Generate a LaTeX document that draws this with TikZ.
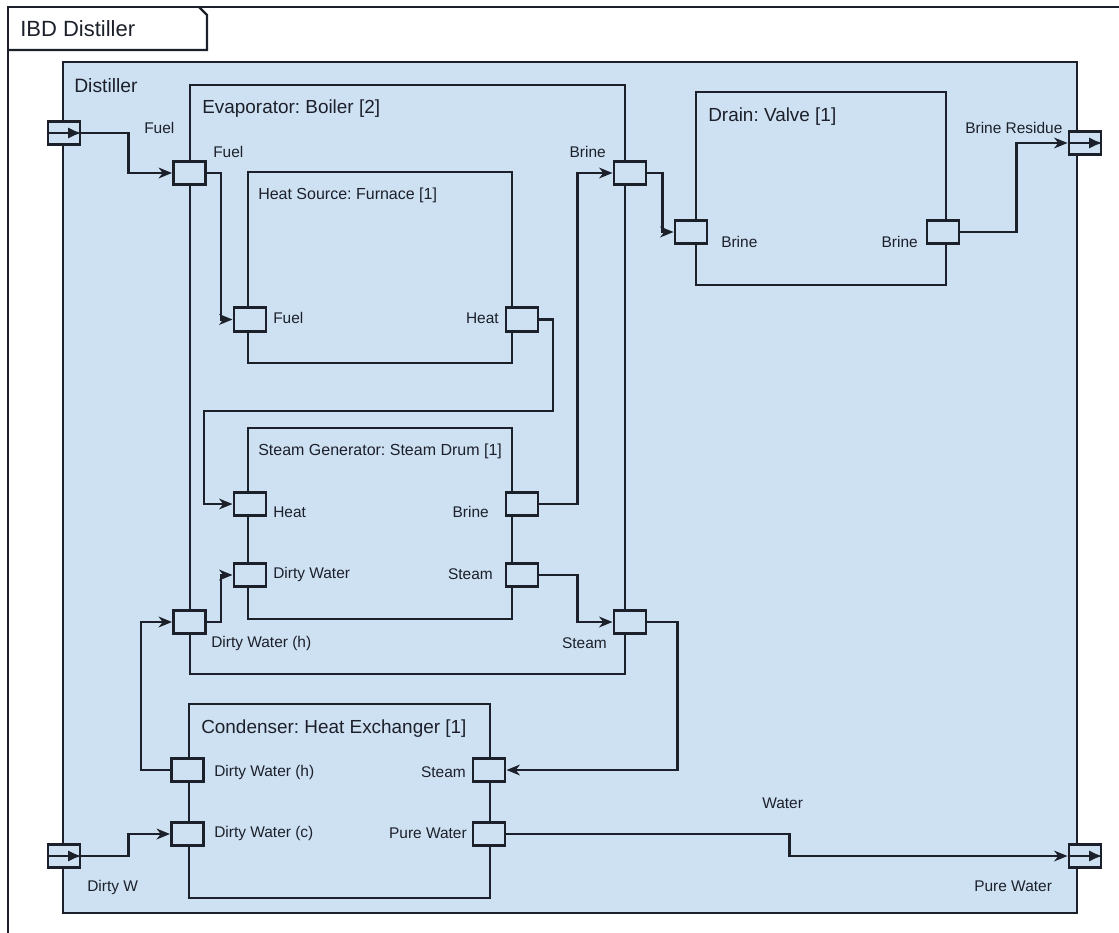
\documentclass[tikz,border=0pt]{standalone}
\usepackage{fontspec}
\setmainfont{Liberation Sans}
\usetikzlibrary{arrows.meta,positioning,fit}
\definecolor{ibdblue}{RGB}{206,225,243}
\definecolor{ink}{RGB}{28,32,42}
\frenchspacing

\begin{document}
\begin{tikzpicture}[
  x=0.75pt, y=-0.75pt,
  frame/.style={draw=ink, line width=1.8pt},
  block/.style={rectangle, draw=ink, fill=ibdblue, line width=2.2pt, inner sep=0pt},
  port/.style={rectangle, draw=ink, fill=ibdblue, line width=2.2pt, minimum width=24pt, minimum height=17.5pt, inner sep=0pt},
  arr/.style={-{Stealth[length=10pt,width=8pt,inset=3pt]}, draw=ink, line width=2.1pt},
  portarr/.style={-{Latex[length=10pt,width=8.5pt]}, draw=ink, line width=2.1pt},
  lbl/.style={text=ink, inner sep=0pt, font=\fontsize{11.6}{13}\selectfont},
  sublbl/.style={text=ink, inner sep=0pt, font=\fontsize{12}{14}\selectfont},
  titlelbl/.style={text=ink, inner sep=0pt, font=\fontsize{14.2}{16}\selectfont}
]
\useasboundingbox (0,0) rectangle (1119,932);
\fill[white] (0,0) rectangle (1119,932);

% Frame with tab
\draw[frame] (8,960) -- (8,7) -- (1140,7);
\draw[frame] (8,50) -- (207,50) -- (207,15) -- (199,7);
\node[text=ink, inner sep=0pt, font=\fontsize{16.5}{18}\selectfont, anchor=west] (ibd) at (20,29) {IBD Distiller};

% Distiller
\node[block, fit={(63,62) (1077,913)}] (distiller) {};
\node[text=ink, inner sep=0pt, font=\fontsize{14.5}{16}\selectfont, anchor=west] (distlbl) at (74,86) {Distiller};

% Parts
\node[block, fit={(190,85) (625,674)}] (evap) {};
\node[block, fit={(248,172) (512,363)}] (furnace) {};
\node[block, fit={(248,428) (512,619)}] (steamgen) {};
\node[block, fit={(696,92) (946,285)}] (drain) {};
\node[block, fit={(189,704) (490,898)}] (condenser) {};

\node[titlelbl, anchor=west] (evaplbl) at (202,109) {Evaporator: Boiler [2]};
\node[sublbl, anchor=west] (furnlbl) at (258,195) {Heat Source: Furnace [1]};
\node[sublbl, anchor=west] (sglbl) at (258,451) {Steam Generator: Steam Drum [1]};
\node[titlelbl, anchor=west] (drainlbl) at (708,117) {Drain: Valve [1]};
\node[titlelbl, anchor=west] (condlbl) at (201,729) {Condenser: Heat Exchanger [1]};

% Boundary ports
\node[port] (inFuel) at (64,133) {};
\node[port] (inDirty) at (64,856) {};
\node[port] (outBrine) at (1085,143) {};
\node[port] (outPure) at (1085,856) {};
\foreach \p in {inFuel,inDirty,outBrine,outPure}
  \draw[portarr] (\p.west) -- (\p.east);

% Part ports
\node[port] (evFuel) at (189.5,173) {};
\node[port] (evBrine) at (630,173) {};
\node[port] (evDirty) at (189.5,622) {};
\node[port] (evSteam) at (630,622) {};
\node[port] (fuFuel) at (250,319.5) {};
\node[port] (fuHeat) at (522,319.5) {};
\node[port] (sgHeat) at (250,504) {};
\node[port] (sgDirty) at (250,575) {};
\node[port] (sgBrine) at (522,504) {};
\node[port] (sgSteam) at (522,575) {};
\node[port] (drIn) at (691,232) {};
\node[port] (drOut) at (943,232) {};
\node[port] (coDirtyH) at (187.5,770) {};
\node[port] (coDirtyC) at (187.5,834) {};
\node[port] (coSteam) at (489,770) {};
\node[port] (coPure) at (489,834) {};

% Port labels
\node[lbl, anchor=west] at (144,128) {Fuel};
\node[lbl, anchor=west] at (213,152) {Fuel};
\node[lbl, anchor=east] at (606,152) {Brine};
\node[lbl, anchor=west] at (211,643) {Dirty Water (h)};
\node[lbl, anchor=east] at (607,643) {Steam};
\node[lbl, anchor=west] at (273,318) {Fuel};
\node[lbl, anchor=east] at (499,318) {Heat};
\node[lbl, anchor=west] at (273,512) {Heat};
\node[lbl, anchor=west] at (273,574) {Dirty Water};
\node[lbl, anchor=east] at (489,512) {Brine};
\node[lbl, anchor=east] at (493,574) {Steam};
\node[lbl, anchor=west] at (721,242) {Brine};
\node[lbl, anchor=east] at (918,242) {Brine};
\node[lbl, anchor=west] at (965,128) {Brine Residue};
\node[lbl, anchor=west] at (214,772) {Dirty Water (h)};
\node[lbl, anchor=west] at (214,833) {Dirty Water (c)};
\node[lbl, anchor=east] at (466,772) {Steam};
\node[lbl, anchor=east] at (467,833) {Pure Water};
\node[lbl, anchor=west] at (87,887) {Dirty W};
\node[lbl, anchor=west] at (762,803) {Water};
\node[lbl, anchor=west] at (974,886) {Pure Water};

% Connectors
\draw[arr] (inFuel.east) -- ++(47,0) |- (evFuel.west);
\draw[arr] (evFuel.east) -- ++(14,0) |- (fuFuel.west);
\draw[arr] (fuHeat.east) -| (553,411) -- (204,411) |- (sgHeat.west);
\draw[arr] (evDirty.east) -- ++(14,0) |- (sgDirty.west);
\draw[arr] (coDirtyH.west) -- ++(-29,0) |- (evDirty.west);
\draw[arr] (inDirty.east) -- ++(47,0) |- (coDirtyC.west);
\draw[arr] (sgSteam.east) -- ++(38,0) |- (evSteam.west);
\draw[arr] (sgBrine.east) -- ++(38,0) |- (evBrine.west);
\draw[arr] (evBrine.east) -- ++(15,0) |- (drIn.west);
\draw[arr] (drOut.east) -- ++(56,0) |- (outBrine.west);
\draw[arr] (evSteam.east) -- ++(30,0) |- (coSteam.east);
\draw[arr] (coPure.east) -- ++(283,0) |- (outPure.west);

\end{tikzpicture}
\end{document}
